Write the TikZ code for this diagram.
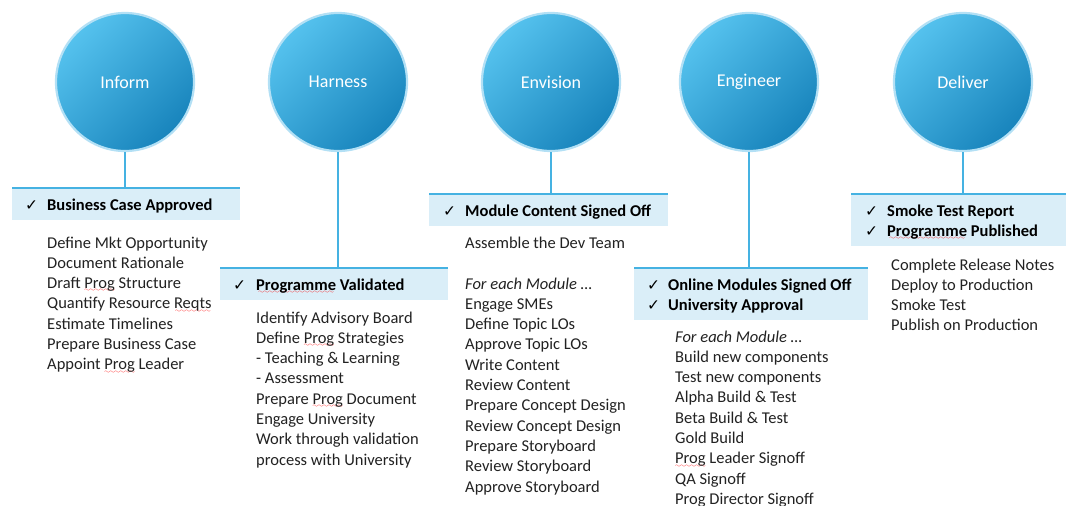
\documentclass[tikz,border=0pt]{standalone}
\usepackage{fontspec}
\setmainfont{Carlito}
\newfontfamily\symfont{DejaVu Sans}
\definecolor{bluelight}{HTML}{55C2EE}
\definecolor{bluedark}{HTML}{1884BC}
\definecolor{ringblue}{HTML}{B3E0F5}
\definecolor{linkblue}{HTML}{45B2E2}
\definecolor{boxfill}{HTML}{DAEEF8}
\definecolor{inkgray}{HTML}{222222}
% red wavy spell-check underline built from the lasy wave glyph
\font\wavefont=lasy6
\newsavebox\sqbox
\newcommand\sq[1]{\sbox\sqbox{#1}\rlap{\lower3.2pt\hbox to\wd\sqbox{\color{red}\wavefont\cleaders\hbox{\char58}\hfill}}\usebox\sqbox}
\newcommand\tick{{\symfont\fontsize{15.5}{15.5}\selectfont ✓}}
\begin{document}
\begin{tikzpicture}[x=1pt,y=-1pt,
  phase/.style={circle, minimum size=138pt, inner sep=0pt, draw=ringblue, line width=2.2pt,
    top color=bluelight, bottom color=bluedark, shading angle=45,
    text=white, font=\fontsize{18}{20}\selectfont},
  hdrbox/.style={fill=boxfill, anchor=north west, inner sep=0pt, outer sep=0pt},
  topline/.style={draw=linkblue, line width=1.8pt},
  link/.style={draw=linkblue, line width=1.8pt},
  hd/.style={anchor=base west, inner sep=0pt, text=black, font=\fontsize{16.5}{20}\selectfont\bfseries},
  chk/.style={anchor=base west, inner sep=0pt, text=black},
  item/.style={anchor=base west, inner sep=0pt, text=inkgray, font=\fontsize{16.5}{20}\selectfont}]
\useasboundingbox (0,0) rectangle (1066,506);
\fill[white] (0,0) rectangle (1066,506);

% phase circles
\node[phase] (c1) at (125,82) {Inform};
\node[phase] (c2) at (338,82) {Harness};
\node[phase] (c3) at (551,82) {Envision};
\node[phase] (c4) at (749,82) {Engineer};
\node[phase] (c5) at (963,82) {Deliver};

% milestone boxes
\node[hdrbox, minimum width=228pt, minimum height=32pt] (b1) at (12,188) {};
\node[hdrbox, minimum width=228pt, minimum height=32pt] (b2) at (220,268) {};
\node[hdrbox, minimum width=239pt, minimum height=32pt] (b3) at (429,194) {};
\node[hdrbox, minimum width=234pt, minimum height=52pt] (b4) at (634,268) {};
\node[hdrbox, minimum width=220pt, minimum height=52pt] (b5) at (851,194) {};
\foreach \b in {b1,b2,b3,b4,b5}
  \draw[topline] (\b.north west) -- (\b.north east);

% connectors
\foreach \c/\b in {c1/b1,c2/b2,c3/b3,c4/b4,c5/b5}
  \draw[link] (\c.south) -- (\c.south |- \b.north);

% milestone headings
\node[chk] (k1) at (25,210) {\tick};
\node[hd] (h1) at (47,210) {Business Case Approved};
\node[chk] (k2) at (233,290) {\tick};
\node[hd] (h2) at (256,290) {\sq{Programme} Validated};
\node[chk] (k3) at (443,216) {\tick};
\node[hd] (h3) at (465,216) {Module Content Signed Off};
\node[chk] (k4a) at (647,290) {\tick};
\node[hd] (h4a) at (668,290) {Online Modules Signed Off};
\node[chk] (k4b) at (647,310) {\tick};
\node[hd] (h4b) at (668,310) {University Approval};
\node[chk] (k5a) at (865,216) {\tick};
\node[hd] (h5a) at (887,216) {Smoke Test Report};
\node[chk] (k5b) at (865,236) {\tick};
\node[hd] (h5b) at (887,236) {\sq{Programme} Published};

% activity lists
\foreach \t [count=\i] in {Define Mkt Opportunity, Document Rationale,
    Draft \sq{Prog} Structure, Quantify Resource \sq{Reqts}, Estimate Timelines,
    Prepare Business Case, Appoint \sq{Prog} Leader}
  \node[item] (l1-\i) at (47,248+20.3*\i-20.3) {\t};

\foreach \t [count=\i] in {Identify Advisory Board, Define \sq{Prog} Strategies,
    - Teaching \& Learning, - Assessment, Prepare \sq{Prog} Document,
    Engage University, Work through validation, process with University}
  \node[item] (l2-\i) at (256,323+20.3*\i-20.3) {\t};

\node[item] (l3-0) at (465,248) {Assemble the Dev Team};
\foreach \t [count=\i] in {\textit{For each Module \dots}, Engage SMEs, Define Topic LOs,
    Approve Topic LOs, Write Content, Review Content, Prepare Concept Design,
    Review Concept Design, Prepare Storyboard, Review Storyboard, Approve Storyboard}
  \node[item] (l3-\i) at (465,289+20.3*\i-20.3) {\t};

\foreach \t [count=\i] in {\textit{For each Module \dots}, Build new components,
    Test new components, Alpha Build \& Test, Beta Build \& Test, Gold Build,
    \sq{Prog} Leader Signoff, QA Signoff, Prog Director Signoff}
  \node[item] (l4-\i) at (675,342+20.3*\i-20.3) {\t};

\foreach \t [count=\i] in {Complete Release Notes, Deploy to Production,
    Smoke Test, Publish on Production}
  \node[item] (l5-\i) at (891,270+20.3*\i-20.3) {\t};
\end{tikzpicture}
\end{document}
